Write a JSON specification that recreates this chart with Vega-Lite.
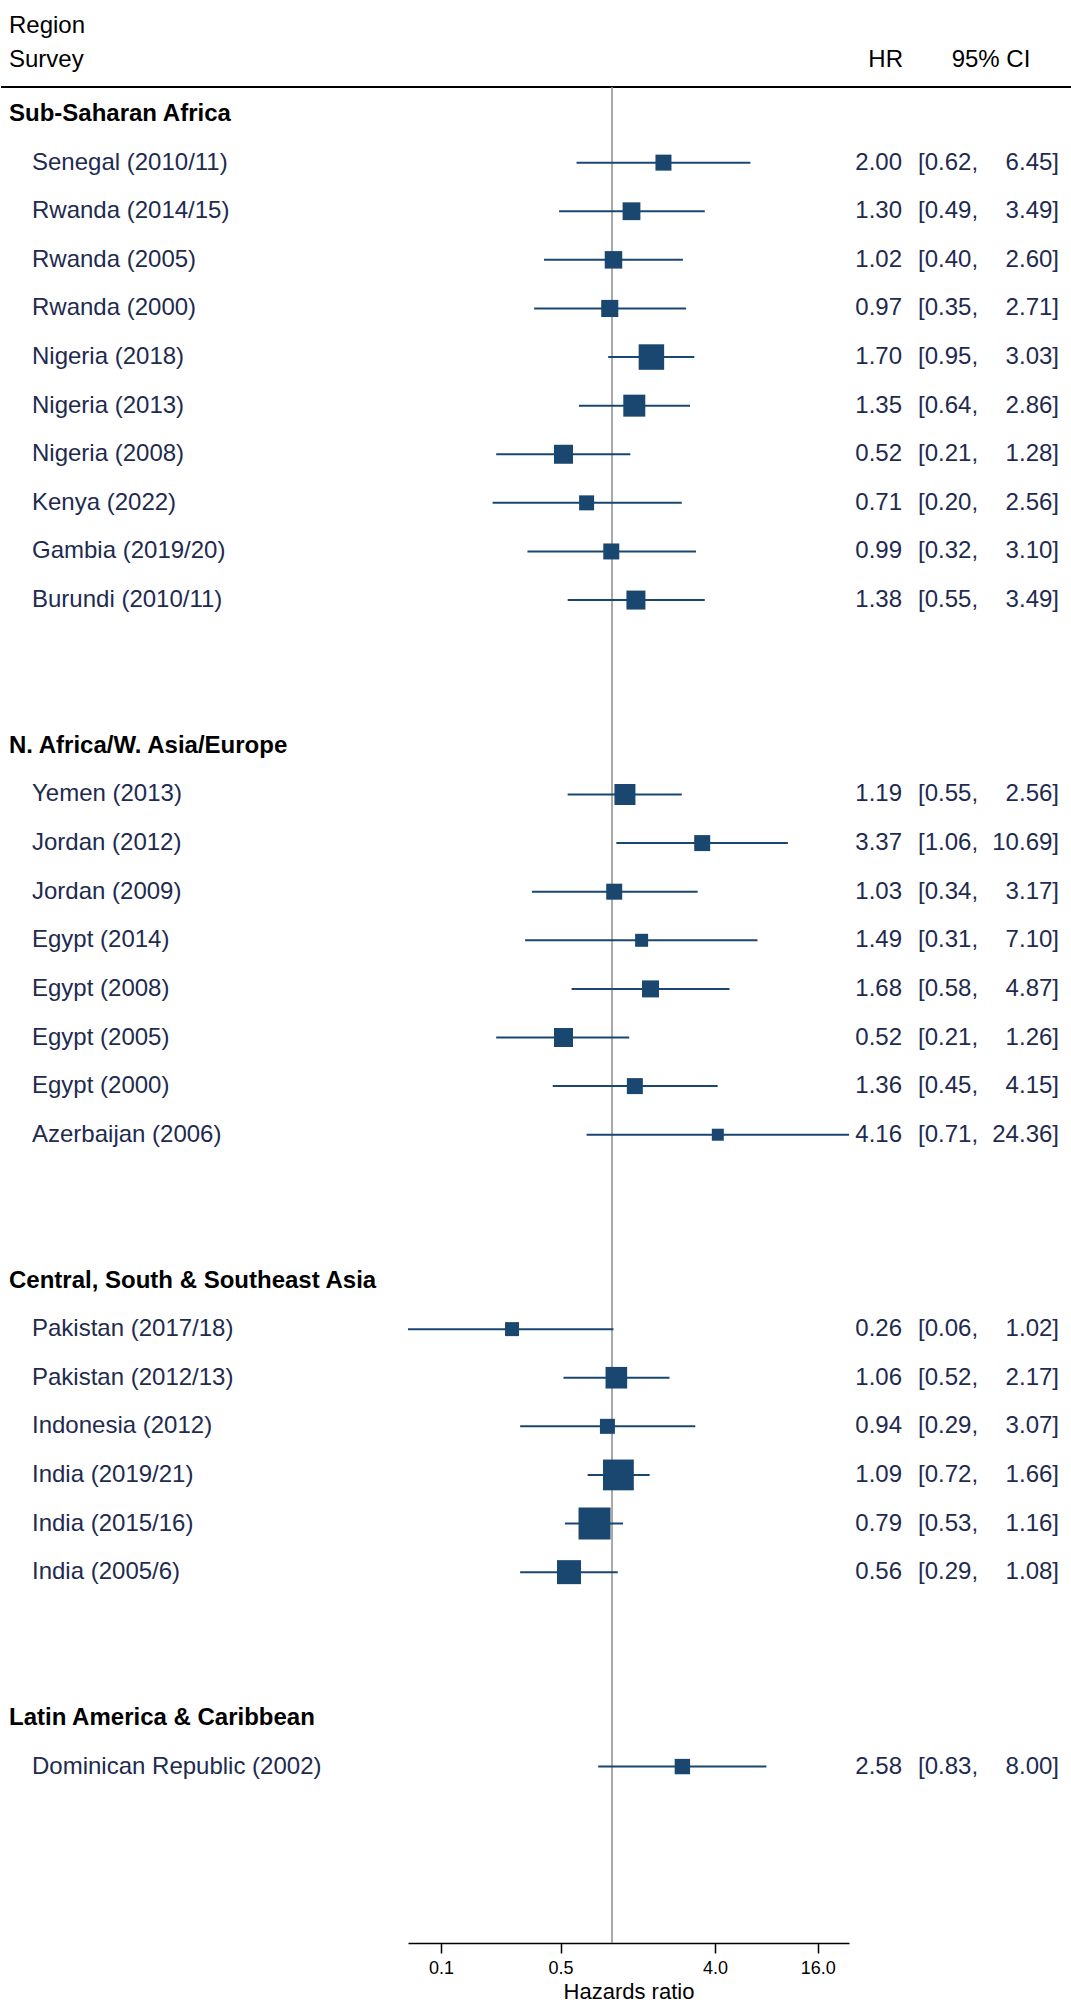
{
  "$schema": "https://vega.github.io/schema/vega-lite/v6.json",
  "padding": 0,
  "spacing": 0,
  "bounds": "flush",
  "background": "white",
  "datasets": {
    "groups": [
      {"region": "Sub-Saharan Africa", "row": 0},
      {"region": "N. Africa/W. Asia/Europe", "row": 13},
      {"region": "Central, South & Southeast Asia", "row": 24},
      {"region": "Latin America & Caribbean", "row": 33}
    ],
    "studies": [
      {"survey": "Senegal (2010/11)", "row": 1, "hr": 2.00, "lo": 0.62, "hi": 6.45, "weight": 25.6},
      {"survey": "Rwanda (2014/15)", "row": 2, "hr": 1.30, "lo": 0.49, "hi": 3.49, "weight": 31.7},
      {"survey": "Rwanda (2005)", "row": 3, "hr": 1.02, "lo": 0.40, "hi": 2.60, "weight": 30.6},
      {"survey": "Rwanda (2000)", "row": 4, "hr": 0.97, "lo": 0.35, "hi": 2.71, "weight": 29.2},
      {"survey": "Nigeria (2018)", "row": 5, "hr": 1.70, "lo": 0.95, "hi": 3.03, "weight": 65.0},
      {"survey": "Nigeria (2013)", "row": 6, "hr": 1.35, "lo": 0.64, "hi": 2.86, "weight": 48.4},
      {"survey": "Nigeria (2008)", "row": 7, "hr": 0.52, "lo": 0.21, "hi": 1.28, "weight": 36.1},
      {"survey": "Kenya (2022)", "row": 8, "hr": 0.71, "lo": 0.20, "hi": 2.56, "weight": 22.5},
      {"survey": "Gambia (2019/20)", "row": 9, "hr": 0.99, "lo": 0.32, "hi": 3.10, "weight": 25.6},
      {"survey": "Burundi (2010/11)", "row": 10, "hr": 1.38, "lo": 0.55, "hi": 3.49, "weight": 36.1},
      {"survey": "Yemen (2013)", "row": 14, "hr": 1.19, "lo": 0.55, "hi": 2.56, "weight": 44.1},
      {"survey": "Jordan (2012)", "row": 15, "hr": 3.37, "lo": 1.06, "hi": 10.69, "weight": 25.6},
      {"survey": "Jordan (2009)", "row": 16, "hr": 1.03, "lo": 0.34, "hi": 3.17, "weight": 25.6},
      {"survey": "Egypt (2014)", "row": 17, "hr": 1.49, "lo": 0.31, "hi": 7.10, "weight": 16.9},
      {"survey": "Egypt (2008)", "row": 18, "hr": 1.68, "lo": 0.58, "hi": 4.87, "weight": 28.9},
      {"survey": "Egypt (2005)", "row": 19, "hr": 0.52, "lo": 0.21, "hi": 1.26, "weight": 36.1},
      {"survey": "Egypt (2000)", "row": 20, "hr": 1.36, "lo": 0.45, "hi": 4.15, "weight": 25.6},
      {"survey": "Azerbaijan (2006)", "row": 21, "hr": 4.16, "lo": 0.71, "hi": 24.36, "weight": 14.4},
      {"survey": "Pakistan (2017/18)", "row": 25, "hr": 0.26, "lo": 0.064, "hi": 1.02, "weight": 19.6},
      {"survey": "Pakistan (2012/13)", "row": 26, "hr": 1.06, "lo": 0.52, "hi": 2.17, "weight": 46.7},
      {"survey": "Indonesia (2012)", "row": 27, "hr": 0.94, "lo": 0.29, "hi": 3.07, "weight": 22.5},
      {"survey": "India (2019/21)", "row": 28, "hr": 1.09, "lo": 0.72, "hi": 1.66, "weight": 94.9},
      {"survey": "India (2015/16)", "row": 29, "hr": 0.79, "lo": 0.53, "hi": 1.16, "weight": 102.4},
      {"survey": "India (2005/6)", "row": 30, "hr": 0.56, "lo": 0.29, "hi": 1.08, "weight": 57.6},
      {"survey": "Dominican Republic (2002)", "row": 34, "hr": 2.58, "lo": 0.83, "hi": 8.00, "weight": 23.7}
    ]
  },
  "hconcat": [
    {
      "width": 407,
      "height": 1943,
      "layer": [
        {
          "data": {"values": [{}]},
          "mark": {"type": "rule", "stroke": "black", "strokeWidth": 2},
          "encoding": {"y": {"datum": -0.556, "type": "quantitative", "scale": {"domain": [-2.346, 37.63], "reverse": true, "nice": false, "zero": false}, "axis": null}}
        },
        {
          "data": {"values": [{}]},
          "mark": {"type": "text", "align": "left", "baseline": "middle", "fontSize": 24, "color": "black", "font": "Liberation Sans"},
          "encoding": {
            "x": {"value": 8},
            "y": {"datum": -1.82, "type": "quantitative"},
            "text": {"value": "Region"}
          }
        },
        {
          "data": {"values": [{}]},
          "mark": {"type": "text", "align": "left", "baseline": "middle", "fontSize": 24, "color": "black", "font": "Liberation Sans"},
          "encoding": {
            "x": {"value": 8},
            "y": {"datum": -1.11, "type": "quantitative"},
            "text": {"value": "Survey"}
          }
        },
        {
          "data": {"name": "groups"},
          "mark": {"type": "text", "align": "left", "baseline": "middle", "fontSize": 24, "fontWeight": "bold", "color": "black", "font": "Liberation Sans"},
          "encoding": {
            "x": {"value": 8},
            "y": {"field": "row", "type": "quantitative"},
            "text": {"field": "region"}
          }
        },
        {
          "data": {"name": "studies"},
          "mark": {"type": "text", "align": "left", "baseline": "middle", "fontSize": 24, "color": "#1e2b4f", "font": "Liberation Sans"},
          "encoding": {
            "x": {"value": 31},
            "y": {"field": "row", "type": "quantitative"},
            "text": {"field": "survey"}
          }
        }
      ]
    },
    {
      "width": 441,
      "height": 1943,
      "layer": [
        {
          "data": {"values": [{}]},
          "mark": {"type": "rule", "stroke": "black", "strokeWidth": 2},
          "encoding": {"y": {"datum": -0.556, "type": "quantitative", "scale": {"domain": [-2.346, 37.63], "reverse": true, "nice": false, "zero": false}, "axis": null}}
        },
        {
          "data": {"values": [{}]},
          "mark": {"type": "rule", "stroke": "#8c8c8c", "strokeWidth": 1.5},
          "encoding": {
            "x": {"datum": 1, "type": "quantitative", "scale": {"type": "log", "domain": [0.064, 24.36], "nice": false}, "axis": {"title": "Hazards ratio", "values": [0.1, 0.5, 4, 16], "format": ".1f"}},
            "y": {"datum": -0.556, "type": "quantitative"},
            "y2": {"datum": 37.63}
          }
        },
        {
          "data": {"name": "studies"},
          "mark": {"type": "rule", "stroke": "#1a476f", "strokeWidth": 2},
          "encoding": {
            "x": {"field": "lo", "type": "quantitative", "scale": {"type": "log", "domain": [0.064, 24.36], "nice": false}, "axis": {"title": "Hazards ratio", "values": [0.1, 0.5, 4, 16], "format": ".1f"}},
            "x2": {"field": "hi"},
            "y": {"field": "row", "type": "quantitative"}
          }
        },
        {
          "data": {"name": "studies"},
          "mark": {"type": "square", "filled": true, "opacity": 1, "color": "#1a476f", "strokeWidth": 0},
          "encoding": {
            "x": {"field": "hr", "type": "quantitative", "scale": {"type": "log", "domain": [0.064, 24.36], "nice": false}, "axis": {"title": "Hazards ratio", "values": [0.1, 0.5, 4, 16], "format": ".1f"}},
            "y": {"field": "row", "type": "quantitative"},
            "size": {"field": "weight", "type": "quantitative", "scale": {"type": "linear", "domain": [0, 100], "range": [0, 1000]}, "legend": null}
          }
        }
      ]
    },
    {
      "width": 223,
      "height": 1943,
      "layer": [
        {
          "data": {"values": [{}]},
          "mark": {"type": "rule", "stroke": "black", "strokeWidth": 2},
          "encoding": {"y": {"datum": -0.556, "type": "quantitative", "scale": {"domain": [-2.346, 37.63], "reverse": true, "nice": false, "zero": false}, "axis": null}}
        },
        {
          "data": {"values": [{}]},
          "mark": {"type": "text", "align": "right", "baseline": "middle", "fontSize": 24, "color": "black", "font": "Liberation Sans"},
          "encoding": {
            "x": {"value": 54},
            "y": {"datum": -1.11, "type": "quantitative"},
            "text": {"value": "HR"}
          }
        },
        {
          "data": {"values": [{}]},
          "mark": {"type": "text", "align": "center", "baseline": "middle", "fontSize": 24, "color": "black", "font": "Liberation Sans"},
          "encoding": {
            "x": {"value": 142},
            "y": {"datum": -1.11, "type": "quantitative"},
            "text": {"value": "95% CI"}
          }
        },
        {
          "data": {"name": "studies"},
          "mark": {"type": "text", "align": "right", "baseline": "middle", "fontSize": 24, "color": "#1e2b4f", "font": "Liberation Sans"},
          "encoding": {
            "x": {"value": 53},
            "y": {"field": "row", "type": "quantitative"},
            "text": {"field": "hr", "type": "quantitative", "format": ".2f"}
          }
        },
        {
          "data": {"name": "studies"},
          "mark": {"type": "text", "align": "left", "baseline": "middle", "fontSize": 24, "color": "#1e2b4f", "font": "Liberation Sans", "text": {"expr": "'[' + format(datum.lo, '.2f') + ','"}},
          "encoding": {
            "x": {"value": 69},
            "y": {"field": "row", "type": "quantitative"}
          }
        },
        {
          "data": {"name": "studies"},
          "mark": {"type": "text", "align": "right", "baseline": "middle", "fontSize": 24, "color": "#1e2b4f", "font": "Liberation Sans", "text": {"expr": "format(datum.hi, '.2f') + ']'"}},
          "encoding": {
            "x": {"value": 210},
            "y": {"field": "row", "type": "quantitative"}
          }
        }
      ]
    }
  ],
  "resolve": {"scale": {"y": "independent"}},
  "config": {
    "view": {"stroke": null},
    "font": "Liberation Sans",
    "axis": {
      "domainColor": "black",
      "domainWidth": 1.5,
      "tickColor": "black",
      "tickWidth": 1.5,
      "tickSize": 10,
      "grid": false,
      "labelFont": "Liberation Sans",
      "labelFontSize": 18,
      "labelColor": "black",
      "labelPadding": 6,
      "titleFont": "Liberation Sans",
      "titleFontSize": 22,
      "titleFontWeight": "normal",
      "titleColor": "black",
      "titlePadding": 4
    }
  }
}
